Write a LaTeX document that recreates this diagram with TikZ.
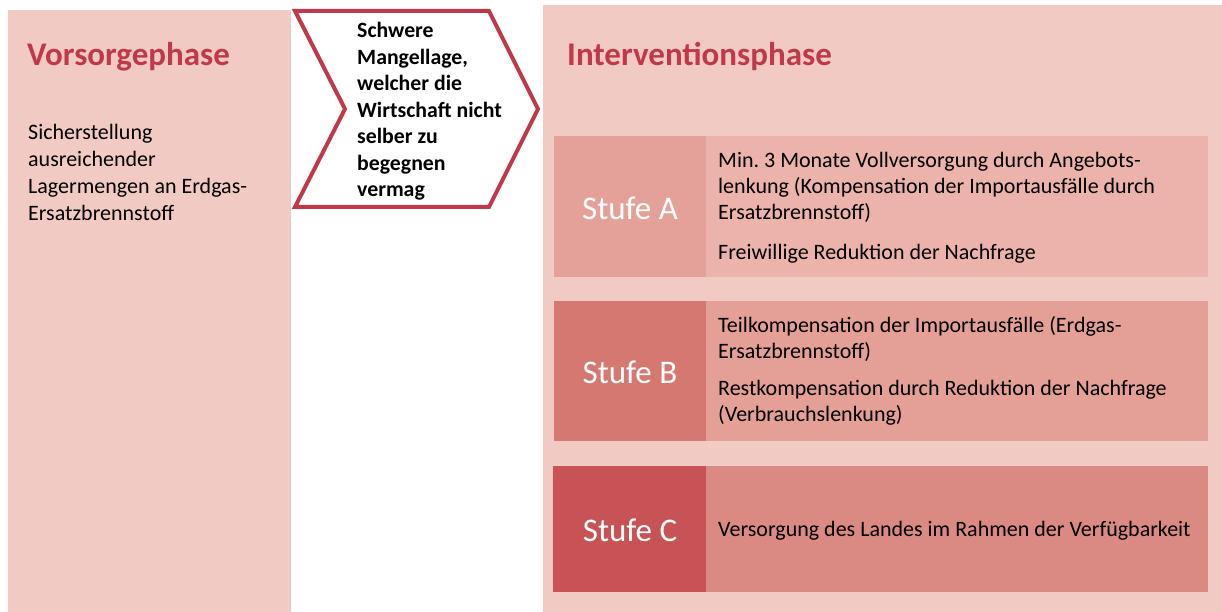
\documentclass[tikz,border=0pt]{standalone}
\usepackage{fontspec}
\setmainfont{Carlito}
\frenchspacing
\definecolor{panel}{HTML}{F2CAC4}
\definecolor{titlered}{HTML}{C0394B}
\definecolor{alabel}{HTML}{E4A199}
\definecolor{atext}{HTML}{ECB3AD}
\definecolor{blabel}{HTML}{D57872}
\definecolor{btext}{HTML}{E49F97}
\definecolor{clabel}{HTML}{C85357}
\definecolor{ctext}{HTML}{DA8A83}
% multi-line nodes are placed by the baseline of their last line
\tikzset{
  panelbox/.style={fill=panel, draw=none},
  phasetitle/.style={anchor=base west, inner sep=0pt, text=titlered,
    font=\fontsize{33}{38}\selectfont\bfseries},
  bodytext/.style={anchor=base west, inner sep=0pt, align=left,
    font=\fontsize{22}{27}\selectfont},
  stagelabel/.style={text=white, font=\fontsize{33}{38}\selectfont},
  stagetext/.style={anchor=base west, inner sep=0pt, align=left,
    font=\fontsize{22}{26}\selectfont},
  chevtext/.style={anchor=base west, inner sep=0pt, align=left,
    font=\fontsize{21.8}{26.5}\selectfont\bfseries},
}
\begin{document}
\begin{tikzpicture}[x=1pt, y=-1pt]
\useasboundingbox (0,0) rectangle (1222,612);

% background panels
\fill[panelbox] (8,10) rectangle (291,612);
\fill[panelbox] (543,5) rectangle (1222,612);

% transition chevron
\draw[draw=titlered, line width=4pt, fill=white, line join=miter]
  (295,11) -- (489,11) -- (538,109) -- (489,207) -- (295,207) -- (345,109) -- cycle;
\node[chevtext] (chev) at (357,197)
  {Schwere\\Mangellage,\\welcher die\\Wirtschaft nicht\\selber zu\\begegnen\\vermag};

% prevention phase
\node[phasetitle] (vtitle) at (27,66) {Vorsorgephase};
\node[bodytext] (vbody) at (28,221)
  {Sicherstellung\\ausreichender\\Lagermengen an Erdgas-\\Ersatzbrennstoff};

% intervention phase
\node[phasetitle] (ititle) at (567,66) {Interventionsphase};

% stage A
\fill[atext] (554,136) rectangle (1208,277);
\fill[alabel] (554,136) rectangle (706,277);
\node[stagelabel] (sa) at (630,208) {Stufe A};
\node[stagetext] (ta1) at (718,220)
  {Min. 3 Monate Vollversorgung durch Angebots-\\lenkung (Kompensation der Importausfälle durch\\Ersatzbrennstoff)};
\node[stagetext] (ta2) at (718,259) {Freiwillige Reduktion der Nachfrage};

% stage B
\fill[btext] (554,301) rectangle (1208,441);
\fill[blabel] (554,301) rectangle (706,441);
\node[stagelabel] (sb) at (630,372) {Stufe B};
\node[stagetext] (tb1) at (718,358)
  {Teilkompensation der Importausfälle (Erdgas-\\Ersatzbrennstoff)};
\node[stagetext] (tb2) at (718,421)
  {Restkompensation durch Reduktion der Nachfrage\\(Verbrauchslenkung)};

% stage C
\fill[ctext] (553,466) rectangle (1208,592);
\fill[clabel] (553,466) rectangle (706,592);
\node[stagelabel] (sc) at (630,530) {Stufe C};
\node[stagetext] (tc) at (718,536) {Versorgung des Landes im Rahmen der Verfügbarkeit};
\end{tikzpicture}
\end{document}
